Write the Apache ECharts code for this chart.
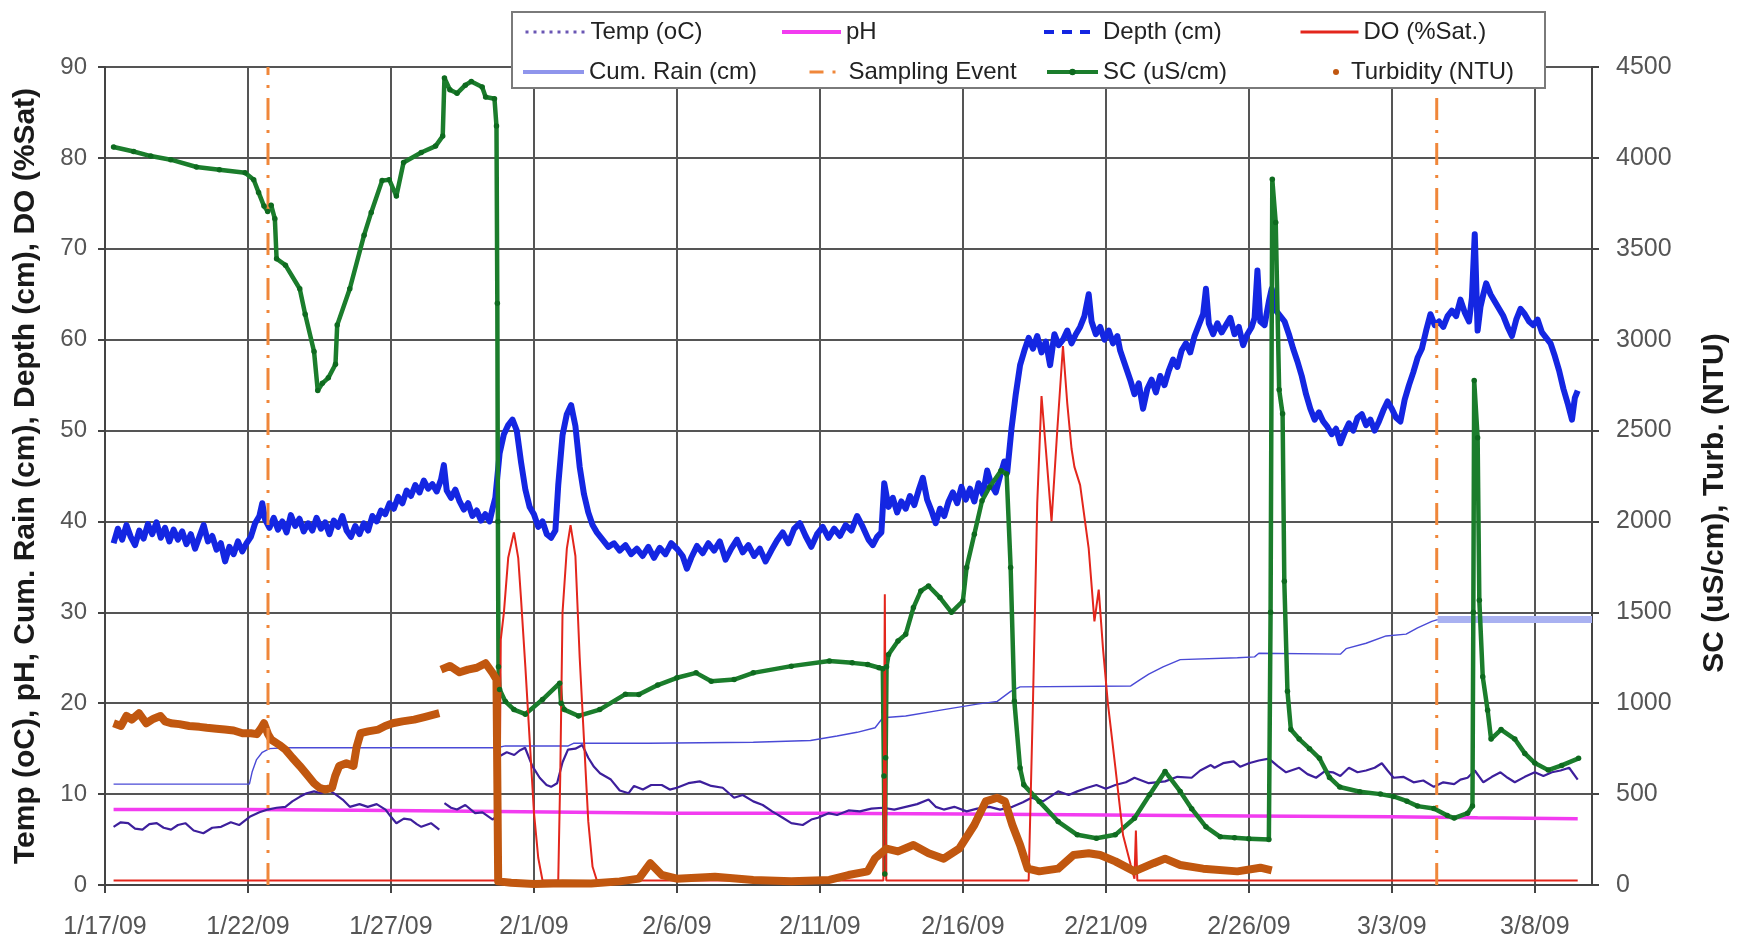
<!DOCTYPE html>
<html>
<head>
<meta charset="utf-8">
<script src="https://cdn.jsdelivr.net/npm/echarts@6/dist/echarts.min.js"></script>
<style>
  html, body { margin: 0; padding: 0; background: #fff; }
  #chart { width: 1748px; height: 951px; }
</style>
</head>
<body>
<div id="chart"></div>
<script>
// x values are days since 1/17/09 (fractional days)
const startDate = [2009, 0, 17];
const dayTicks = [0, 5, 10, 15, 20, 25, 30, 35, 40, 45, 50];
const leftTicks = [0, 10, 20, 30, 40, 50, 60, 70, 80, 90];
const rightTicks = [0, 500, 1000, 1500, 2000, 2500, 3000, 3500, 4000, 4500];

// Sampling events (day offsets)
const samplingDays = [5.7, 46.57];

// Temperature (oC)
const temp = [[0.3,6.4],[0.55,6.9],[0.81,6.8],[1.05,6.2],[1.31,6.1],[1.55,6.7],[1.81,6.8],[2.05,6.3],[2.31,6.1],[2.55,6.6],[2.81,6.8],[3.1,6.0],[3.44,5.7],[3.75,6.3],[4.06,6.4],[4.4,6.9],[4.69,6.6],[5.06,7.5],[5.4,8.0],[5.69,8.3],[6.0,8.5],[6.31,8.6],[6.55,9.2],[6.81,9.7],[7.05,10.1],[7.31,10.3],[7.55,10.1],[7.81,10.5],[8.05,10.0],[8.31,9.4],[8.56,8.6],[8.9,8.9],[9.19,8.6],[9.5,8.9],[9.81,8.3],[10.0,7.5],[10.19,6.8],[10.45,7.3],[10.69,7.2],[10.9,6.7],[11.06,6.4],[11.4,6.8],[11.69,6.1],[11.78,null],[11.87,9.0],[12.1,8.5],[12.31,8.3],[12.6,8.8],[12.94,7.9],[13.2,8.0],[13.56,7.2],[13.7,7.6],[13.81,14.2],[14.05,14.6],[14.31,14.3],[14.5,14.8],[14.69,15.1],[14.94,13.1],[15.2,11.8],[15.44,11.0],[15.6,10.8],[15.81,11.2],[16.0,13.5],[16.19,14.9],[16.45,15.0],[16.69,15.4],[16.9,14.0],[17.1,13.0],[17.31,12.3],[17.69,11.6],[18.0,10.4],[18.31,10.1],[18.5,10.9],[18.81,10.5],[19.1,11.0],[19.47,11.0],[19.75,10.5],[20.0,10.7],[20.4,11.2],[20.8,11.4],[21.2,10.9],[21.6,10.7],[22.0,9.6],[22.3,9.9],[22.67,9.2],[23.0,8.8],[23.33,8.1],[23.7,7.4],[24.0,6.8],[24.4,6.6],[24.7,7.2],[24.93,7.4],[25.3,7.9],[25.6,7.7],[26.0,8.2],[26.4,8.1],[26.8,8.4],[27.2,8.5],[27.6,8.3],[28.0,8.6],[28.4,8.9],[28.8,9.4],[29.05,8.6],[29.33,8.3],[29.7,8.6],[30.13,8.1],[30.5,8.4],[30.93,8.6],[31.3,8.3],[31.73,8.6],[32.1,9.1],[32.4,9.6],[32.8,9.2],[33.1,9.8],[33.33,10.3],[33.7,9.9],[34.0,10.3],[34.35,10.7],[34.67,11.0],[35.0,10.6],[35.33,11.0],[35.7,11.3],[36.0,11.8],[36.5,11.2],[37.07,11.4],[37.5,11.9],[38.0,11.8],[38.3,12.6],[38.67,13.2],[38.8,12.9],[39.1,13.4],[39.47,13.6],[39.7,13.0],[40.0,13.4],[40.35,13.7],[40.7,13.9],[41.0,13.1],[41.3,12.4],[41.76,12.9],[42.05,12.2],[42.35,11.8],[42.65,12.5],[42.94,12.4],[43.2,12.0],[43.5,12.9],[43.8,12.4],[44.1,12.6],[44.4,12.9],[44.65,13.4],[44.85,12.6],[45.06,11.8],[45.4,11.9],[45.76,11.3],[46.1,11.5],[46.47,10.8],[46.8,11.3],[47.18,11.1],[47.4,11.6],[47.65,11.8],[47.9,12.6],[48.2,11.3],[48.5,11.9],[48.8,12.4],[49.05,11.8],[49.3,11.3],[49.65,11.9],[50.0,12.4],[50.3,12.0],[50.6,12.4],[50.9,12.6],[51.2,12.9],[51.5,11.6]];

// pH
const ph = [[0.3,8.3],[5,8.3],[10,8.2],[13.7,8.1],[20,7.9],[25,7.9],[30,7.8],[35,7.7],[40,7.6],[45,7.5],[48,7.4],[51.5,7.3]];

// Depth (cm)
const depth = [[0.3,37.6],[0.45,39.2],[0.6,38.0],[0.75,39.6],[0.9,38.3],[1.05,37.4],[1.2,39.0],[1.35,38.1],[1.5,39.7],[1.65,38.6],[1.8,39.9],[1.95,38.2],[2.1,39.3],[2.25,37.8],[2.4,39.1],[2.55,38.0],[2.7,38.9],[2.85,37.5],[3.0,38.6],[3.15,37.0],[3.3,38.3],[3.45,39.6],[3.6,37.8],[3.75,38.4],[3.9,36.9],[4.05,37.6],[4.2,35.6],[4.35,37.2],[4.5,36.4],[4.65,37.8],[4.8,36.7],[4.95,37.6],[5.1,38.3],[5.25,39.8],[5.4,40.6],[5.5,42.0],[5.6,40.2],[5.75,39.3],[5.9,40.4],[6.05,39.1],[6.2,40.0],[6.35,38.8],[6.5,40.7],[6.65,39.5],[6.8,40.3],[6.95,38.9],[7.1,39.8],[7.25,39.0],[7.4,40.4],[7.55,39.2],[7.7,39.9],[7.85,38.6],[8.0,40.1],[8.15,39.4],[8.3,40.6],[8.45,39.0],[8.6,38.3],[8.75,39.5],[8.9,38.6],[9.05,39.8],[9.2,39.0],[9.35,40.6],[9.5,40.0],[9.65,41.2],[9.8,40.8],[9.95,42.0],[10.1,41.4],[10.25,42.7],[10.4,42.0],[10.55,43.4],[10.7,42.8],[10.85,44.0],[11.0,43.2],[11.15,44.5],[11.3,43.6],[11.45,44.1],[11.6,43.3],[11.75,44.6],[11.85,46.2],[11.95,43.4],[12.1,42.6],[12.25,43.5],[12.4,42.2],[12.55,41.3],[12.7,42.0],[12.85,40.6],[13.0,41.2],[13.15,40.1],[13.3,40.8],[13.45,40.0],[13.55,41.4],[13.65,42.6],[13.8,47.5],[13.95,49.6],[14.1,50.6],[14.25,51.2],[14.4,50.0],[14.55,46.5],[14.7,43.5],[14.85,41.6],[15.0,40.8],[15.15,39.4],[15.3,40.0],[15.45,38.6],[15.6,38.2],[15.75,39.0],[15.85,44.0],[16.0,49.5],[16.15,51.8],[16.3,52.8],[16.45,50.5],[16.6,46.0],[16.75,43.0],[16.9,41.0],[17.05,39.6],[17.2,38.8],[17.4,38.0],[17.6,37.2],[17.8,37.6],[18.0,36.8],[18.2,37.4],[18.4,36.4],[18.6,37.0],[18.8,36.2],[19.0,37.2],[19.2,36.0],[19.4,37.1],[19.6,36.4],[19.8,37.6],[20.0,37.0],[20.2,36.2],[20.35,34.8],[20.5,36.0],[20.7,37.3],[20.9,36.5],[21.1,37.6],[21.3,36.8],[21.5,37.8],[21.7,35.8],[21.9,37.0],[22.1,38.0],[22.3,36.6],[22.5,37.4],[22.7,36.2],[22.9,37.0],[23.1,35.6],[23.3,36.8],[23.5,37.9],[23.7,38.8],[23.9,37.6],[24.1,39.2],[24.3,39.8],[24.5,38.4],[24.7,37.2],[24.9,38.6],[25.1,39.4],[25.3,38.2],[25.5,39.2],[25.7,38.4],[25.9,39.6],[26.1,39.0],[26.3,40.6],[26.5,39.4],[26.7,38.0],[26.85,37.4],[27.0,38.3],[27.15,38.8],[27.25,44.2],[27.4,41.6],[27.55,42.6],[27.7,41.0],[27.85,42.2],[28.0,41.4],[28.15,42.8],[28.3,41.8],[28.45,43.4],[28.6,44.8],[28.75,42.4],[28.9,41.2],[29.05,39.8],[29.2,41.4],[29.35,40.6],[29.5,42.2],[29.65,43.2],[29.8,42.0],[29.95,43.8],[30.1,42.4],[30.25,43.6],[30.4,42.2],[30.55,44.2],[30.7,43.0],[30.85,45.6],[31.0,44.0],[31.15,43.2],[31.3,45.0],[31.45,46.6],[31.55,45.4],[31.7,50.2],[31.85,54.0],[32.0,57.2],[32.15,58.8],[32.3,60.2],[32.45,59.0],[32.6,60.4],[32.75,58.6],[32.9,59.8],[33.05,57.2],[33.2,60.6],[33.35,59.4],[33.5,60.0],[33.65,61.0],[33.8,59.6],[33.95,60.6],[34.1,61.4],[34.25,62.6],[34.4,65.0],[34.5,62.0],[34.65,60.6],[34.8,61.4],[34.95,60.0],[35.1,61.0],[35.25,59.6],[35.4,60.4],[35.5,58.8],[35.85,55.6],[36.0,54.0],[36.15,55.2],[36.3,52.4],[36.45,54.6],[36.6,55.6],[36.75,54.2],[36.9,56.0],[37.05,55.0],[37.2,56.6],[37.35,57.8],[37.5,57.0],[37.65,58.8],[37.8,59.6],[37.95,58.6],[38.1,60.4],[38.25,61.6],[38.4,62.8],[38.5,65.6],[38.6,61.8],[38.75,60.6],[38.9,61.8],[39.05,60.8],[39.2,61.6],[39.35,62.4],[39.5,60.6],[39.65,61.4],[39.8,59.4],[39.95,60.6],[40.1,61.4],[40.2,62.4],[40.3,67.6],[40.4,62.0],[40.55,61.6],[40.7,64.2],[40.8,65.6],[40.95,63.2],[41.1,62.6],[41.25,62.0],[41.4,60.6],[41.55,59.0],[41.7,57.6],[41.85,56.0],[42.0,54.0],[42.15,52.4],[42.3,51.2],[42.45,52.0],[42.6,51.0],[42.75,50.4],[42.9,49.6],[43.05,50.2],[43.2,48.6],[43.35,49.8],[43.5,50.8],[43.65,50.0],[43.8,51.4],[43.95,51.8],[44.1,50.6],[44.25,51.2],[44.4,50.0],[44.55,51.0],[44.7,52.2],[44.85,53.2],[45.0,52.4],[45.15,51.4],[45.3,51.0],[45.45,53.4],[45.6,55.0],[45.75,56.4],[45.9,58.0],[46.05,59.0],[46.2,61.0],[46.35,62.8],[46.5,61.6],[46.65,62.0],[46.8,61.4],[46.95,62.6],[47.1,63.2],[47.25,62.6],[47.4,64.4],[47.55,63.0],[47.7,62.0],[47.8,64.6],[47.9,71.6],[48.0,61.0],[48.1,63.6],[48.2,65.0],[48.3,66.2],[48.45,65.0],[48.6,64.2],[48.75,63.4],[48.9,62.6],[49.05,61.4],[49.2,60.4],[49.35,62.2],[49.5,63.4],[49.65,62.8],[49.8,62.0],[49.95,61.6],[50.1,62.2],[50.25,60.8],[50.4,60.2],[50.55,59.6],[50.7,58.2],[50.85,56.6],[51.0,54.6],[51.15,53.0],[51.3,51.2],[51.4,53.6],[51.5,54.4]];

// Dissolved oxygen (%Sat.)
const dissolvedO2 = [[0.3,0.5],[13.78,0.5],[13.84,27],[13.95,30],[14.1,36],[14.3,38.8],[14.45,36],[14.55,31.4],[14.7,24],[14.85,16],[15.0,8],[15.15,3],[15.3,0.5],[15.85,0.5],[15.92,12],[16.0,30],[16.15,37],[16.28,39.6],[16.45,36.2],[16.6,25],[16.75,16],[16.9,7],[17.05,2],[17.2,0.5],[27.22,0.5],[27.27,32],[27.32,0.5],[32.3,0.5],[32.45,20],[32.6,42],[32.75,53.8],[32.9,48],[33.1,40],[33.3,50],[33.5,59.3],[33.65,53],[33.8,48],[33.9,46],[34.1,44],[34.4,37],[34.6,29],[34.75,32.5],[34.9,26],[35.07,20],[35.33,13],[35.6,5.5],[35.87,2.2],[36.0,0.7],[36.05,6],[36.1,0.5],[51.5,0.5]];

// Cumulative rain (cm)
const cumRain = [[0.3,11.1],[5.05,11.1],[5.15,12.5],[5.3,13.8],[5.5,14.6],[5.75,15.0],[6.3,15.1],[13.7,15.1],[14.0,15.3],[16.2,15.3],[16.4,15.6],[19,15.6],[22.67,15.7],[24.67,15.9],[25.6,16.4],[26.3,16.8],[26.93,17.3],[27.2,18.4],[28,18.6],[29.33,19.3],[30.5,19.9],[31.2,20.2],[31.67,21.3],[32,21.8],[35.87,21.9],[36.2,22.6],[36.5,23.2],[37.0,24.0],[37.6,24.8],[39.6,25.0],[40.2,25.1],[40.35,25.5],[43.2,25.4],[43.4,26.0],[44.1,26.6],[44.8,27.4],[45.5,27.6],[45.9,28.3],[46.4,29.0],[46.6,29.2]];
const cumRainFlat = [[46.6,29.2],[52,29.2]];

// Specific conductance (uS/cm)
const sc = [[0.3,4060],[1.0,4035],[1.6,4010],[2.3,3990],[3.2,3950],[4.0,3935],[4.9,3918],[5.2,3880],[5.37,3810],[5.56,3735],[5.69,3705],[5.81,3740],[5.94,3665],[6.0,3445],[6.31,3410],[6.81,3280],[7.0,3140],[7.31,2935],[7.44,2720],[7.6,2760],[7.81,2790],[8.06,2865],[8.12,3080],[8.56,3280],[9.06,3575],[9.31,3700],[9.69,3875],[9.94,3880],[10.19,3790],[10.44,3975],[11.06,4030],[11.56,4065],[11.81,4120],[11.87,4440],[12.06,4375],[12.31,4355],[12.6,4400],[12.81,4420],[13.19,4390],[13.31,4335],[13.62,4325],[13.69,4175],[13.72,3200],[13.74,2000],[13.76,1200],[13.8,1075],[14.0,1010],[14.3,965],[14.7,940],[15.3,1020],[15.9,1110],[15.95,1000],[16.06,965],[16.56,930],[17.3,965],[18.2,1050],[18.67,1048],[19.33,1100],[20.0,1140],[20.67,1167],[21.2,1121],[22.0,1130],[22.67,1167],[24.0,1204],[25.33,1232],[26.13,1222],[26.67,1213],[27.07,1195],[27.2,1190],[27.24,600],[27.27,60],[27.3,700],[27.33,1200],[27.4,1268],[27.73,1342],[28.0,1379],[28.27,1526],[28.53,1618],[28.8,1645],[29.2,1581],[29.6,1500],[30.0,1562],[30.13,1746],[30.4,1930],[30.67,2114],[30.93,2188],[31.33,2279],[31.53,2261],[31.67,1746],[31.8,1011],[32.0,643],[32.13,551],[32.67,460],[33.33,349],[34.0,276],[34.67,257],[35.33,276],[36.0,367],[36.53,496],[37.07,625],[37.6,515],[38.0,420],[38.5,320],[39.0,265],[39.5,260],[40.0,255],[40.7,250],[40.76,1500],[40.82,3882],[40.94,3645],[41.06,2724],[41.18,2592],[41.24,1671],[41.35,1066],[41.47,855],[41.76,803],[42.12,750],[42.47,697],[42.82,592],[43.18,539],[43.88,513],[44.6,500],[45.06,487],[45.53,461],[45.9,434],[46.47,421],[46.94,382],[47.18,368],[47.65,395],[47.82,434],[47.85,1500],[47.88,2776],[48.0,2461],[48.06,1566],[48.18,1145],[48.35,961],[48.47,803],[48.82,855],[49.3,803],[49.65,724],[50.0,671],[50.47,632],[50.94,658],[51.53,697]];

// Turbidity (NTU)
const turbidity = [[0.3,890],[0.56,875],[0.75,930],[0.94,910],[1.19,945],[1.44,890],[1.7,915],[1.94,930],[2.1,900],[2.31,890],[2.6,885],[2.94,875],[3.3,870],[3.56,865],[3.9,860],[4.19,855],[4.5,850],[4.81,835],[5.1,835],[5.31,830],[5.45,860],[5.56,890],[5.7,830],[5.81,800],[6.1,770],[6.31,745],[6.55,700],[6.81,655],[7.05,610],[7.31,560],[7.5,535],[7.69,525],[7.94,535],[8.05,600],[8.19,655],[8.44,670],[8.69,655],[8.8,760],[8.94,835],[9.2,845],[9.56,855],[9.8,875],[10.06,890],[10.4,900],[10.81,910],[11.2,925],[11.69,945],[11.72,null],[11.75,1185],[12.06,1205],[12.4,1170],[12.69,1185],[13.0,1195],[13.31,1220],[13.56,1165],[13.69,1130],[13.75,20],[14.2,12],[15,5],[16,10],[17,8],[18,20],[18.67,35],[19.07,120],[19.47,55],[20,35],[21.33,45],[22.67,28],[24,20],[25.33,28],[26,55],[26.67,75],[26.93,147],[27.33,200],[27.73,185],[28.27,220],[28.8,175],[29.33,145],[29.87,200],[30.4,330],[30.8,460],[31.2,480],[31.47,460],[31.73,330],[32,220],[32.27,90],[32.67,75],[33.33,90],[33.87,165],[34.4,175],[34.8,165],[35.33,130],[36,75],[36.67,120],[37.07,145],[37.6,110],[38.4,90],[39.6,75],[40.4,95],[40.8,80]];

const FONT = '"Liberation Sans", Arial, sans-serif';

function dayLabel(v) {
  if (dayTicks.indexOf(v) < 0) return '';
  const d = new Date(startDate[0], startDate[1], startDate[2] + v);
  return (d.getMonth() + 1) + '/' + d.getDate() + '/09';
}

// vertical sampling-event lines, broken between events
const samplingLine = [];
samplingDays.forEach((d, i) => {
  if (i > 0) samplingLine.push([d - 1, null]);
  samplingLine.push([d, 0], [d, 90]);
});

const C = {
  temp: '#3d1f9c', ph: '#f23cf0', depth: '#1426e2', dox: '#e3261c',
  rain: '#4a4ad6', rainBand: '#a9b1f1', samp: '#f0873a', sc: '#1b7d2c', scDot: '#0e6a1f', turb: '#c1570f'
};

const hiddenDot = { opacity: 0 };

function legendAt(left, top, w, h, item) {
  return {
    left: left, top: top, orient: 'horizontal', itemWidth: w, itemHeight: h,
    selectedMode: false, z: 20, padding: 0,
    textStyle: { fontSize: 24, color: '#222', fontFamily: FONT, lineHeight: 28 },
    data: [item]
  };
}

const option = {
  animation: false,
  backgroundColor: '#ffffff',
  grid: { left: 105, right: 156, top: 67, bottom: 66 },
  graphic: [{
    type: 'rect', z: 15,
    shape: { x: 512, y: 12, width: 1033, height: 76 },
    style: { fill: '#ffffff', stroke: '#7a7a7a', lineWidth: 2 }
  }],
  legend: [
    legendAt(524, 18, 60, 10, { name: 'Temp (oC)', itemStyle: hiddenDot, lineStyle: { type: [3, 5], width: 3, color: '#6a56b4' } }),
    legendAt(780, 18, 59, 10, { name: 'pH', itemStyle: hiddenDot, lineStyle: { width: 4, color: C.ph } }),
    legendAt(1042, 18, 54, 10, { name: 'Depth (cm)', itemStyle: hiddenDot, lineStyle: { type: [10, 8], width: 4, color: C.depth } }),
    legendAt(1299, 18, 58, 10, { name: 'DO (%Sat.)', itemStyle: hiddenDot, lineStyle: { width: 3, color: C.dox } }),
    legendAt(521, 58, 61, 10, { name: 'Cum. Rain (cm)', itemStyle: hiddenDot, lineStyle: { width: 4, color: '#8f95ec' } }),
    legendAt(808, 58, 34, 10, { name: 'Sampling Event', itemStyle: hiddenDot, lineStyle: { type: [14, 9, 3, 20], width: 3, color: C.samp } }),
    legendAt(1045, 58, 51, 8, { name: 'SC (uS/cm)', lineStyle: { width: 4, color: C.sc } }),
    legendAt(1333, 58, 20, 6, { name: 'Turbidity (NTU)', icon: 'circle', itemStyle: { color: C.turb } })
  ],
  xAxis: {
    type: 'value', min: 0, max: 52, interval: 5,
    axisLine: { show: true, onZero: false, lineStyle: { color: '#444', width: 2 } },
    axisTick: { show: true, length: 8, lineStyle: { color: '#444', width: 2 } },
    axisLabel: { formatter: dayLabel, fontSize: 25, color: '#555', fontFamily: FONT, margin: 30, showMaxLabel: false },
    splitLine: { show: true, lineStyle: { color: '#555', width: 2 } }
  },
  yAxis: [
    {
      type: 'value', min: 0, max: 90, interval: 10, position: 'left',
      name: 'Temp (oC), pH, Cum. Rain (cm), Depth (cm), DO (%Sat)',
      nameLocation: 'middle', nameRotate: 90, nameGap: 62,
      nameTextStyle: { fontSize: 30, fontWeight: 'bold', color: '#1a1a1a', fontFamily: FONT, lineHeight: 34 },
      axisLine: { show: true, lineStyle: { color: '#444', width: 2 } },
      axisTick: { show: true, length: 7, lineStyle: { color: '#444', width: 2 } },
      axisLabel: { fontSize: 24, color: '#555', fontFamily: FONT, margin: 18 },
      splitLine: { show: true, lineStyle: { color: '#555', width: 2 } }
    },
    {
      type: 'value', min: 0, max: 4500, interval: 500, position: 'right',
      name: 'SC (uS/cm), Turb. (NTU)',
      nameLocation: 'middle', nameRotate: 90, nameGap: 106,
      nameTextStyle: { fontSize: 30, fontWeight: 'bold', color: '#1a1a1a', fontFamily: FONT, lineHeight: 34, padding: [0, 54, 0, 0] },
      axisLine: { show: true, lineStyle: { color: '#444', width: 2 } },
      axisTick: { show: true, length: 7, lineStyle: { color: '#444', width: 2 } },
      axisLabel: { fontSize: 25, color: '#555', fontFamily: FONT, margin: 24, formatter: v => String(v) },
      splitLine: { show: false }
    }
  ],
  series: [
    { name: 'pH', type: 'line', yAxisIndex: 0, data: ph, symbol: 'none', silent: true,
      lineStyle: { color: C.ph, width: 3.5 }, itemStyle: { color: C.ph } },
    { name: 'Cum. Rain (cm)', type: 'line', yAxisIndex: 0, data: cumRainFlat, symbol: 'none', silent: true,
      lineStyle: { color: C.rainBand, width: 7 }, itemStyle: { color: C.rainBand } },
    { name: 'Cum. Rain (cm)', type: 'line', yAxisIndex: 0, data: cumRain, symbol: 'none', silent: true,
      lineStyle: { color: C.rain, width: 1.4 }, itemStyle: { color: C.rain } },
    { name: 'Temp (oC)', type: 'line', yAxisIndex: 0, data: temp, symbol: 'none', silent: true, connectNulls: false,
      lineStyle: { color: C.temp, width: 2.2 }, itemStyle: { color: C.temp } },
    { name: 'Depth (cm)', type: 'line', yAxisIndex: 0, data: depth, symbol: 'none', silent: true,
      lineStyle: { color: C.depth, width: 6, join: 'round' }, itemStyle: { color: C.depth } },
    { name: 'SC (uS/cm)', type: 'line', yAxisIndex: 1, data: sc, symbol: 'circle', symbolSize: 5.5, showSymbol: true, showAllSymbol: true, silent: true,
      lineStyle: { color: C.sc, width: 4.5, join: 'round' }, itemStyle: { color: C.scDot } },
    { name: 'DO (%Sat.)', type: 'line', yAxisIndex: 0, data: dissolvedO2, symbol: 'none', silent: true,
      lineStyle: { color: C.dox, width: 2 }, itemStyle: { color: C.dox } },
    { name: 'Turbidity (NTU)', type: 'line', yAxisIndex: 1, data: turbidity, symbol: 'none', silent: true, connectNulls: false,
      lineStyle: { color: C.turb, width: 8, join: 'round' }, itemStyle: { color: C.turb } },
    { name: 'Sampling Event', type: 'line', yAxisIndex: 0, data: samplingLine, symbol: 'none', silent: true, connectNulls: false,
      lineStyle: { color: C.samp, width: 3, type: [22, 10, 3, 10] }, itemStyle: { color: C.samp } }
  ]
};

const chart = echarts.init(document.getElementById('chart'), null, { renderer: 'canvas' });
chart.setOption(option);
</script>
</body>
</html>
